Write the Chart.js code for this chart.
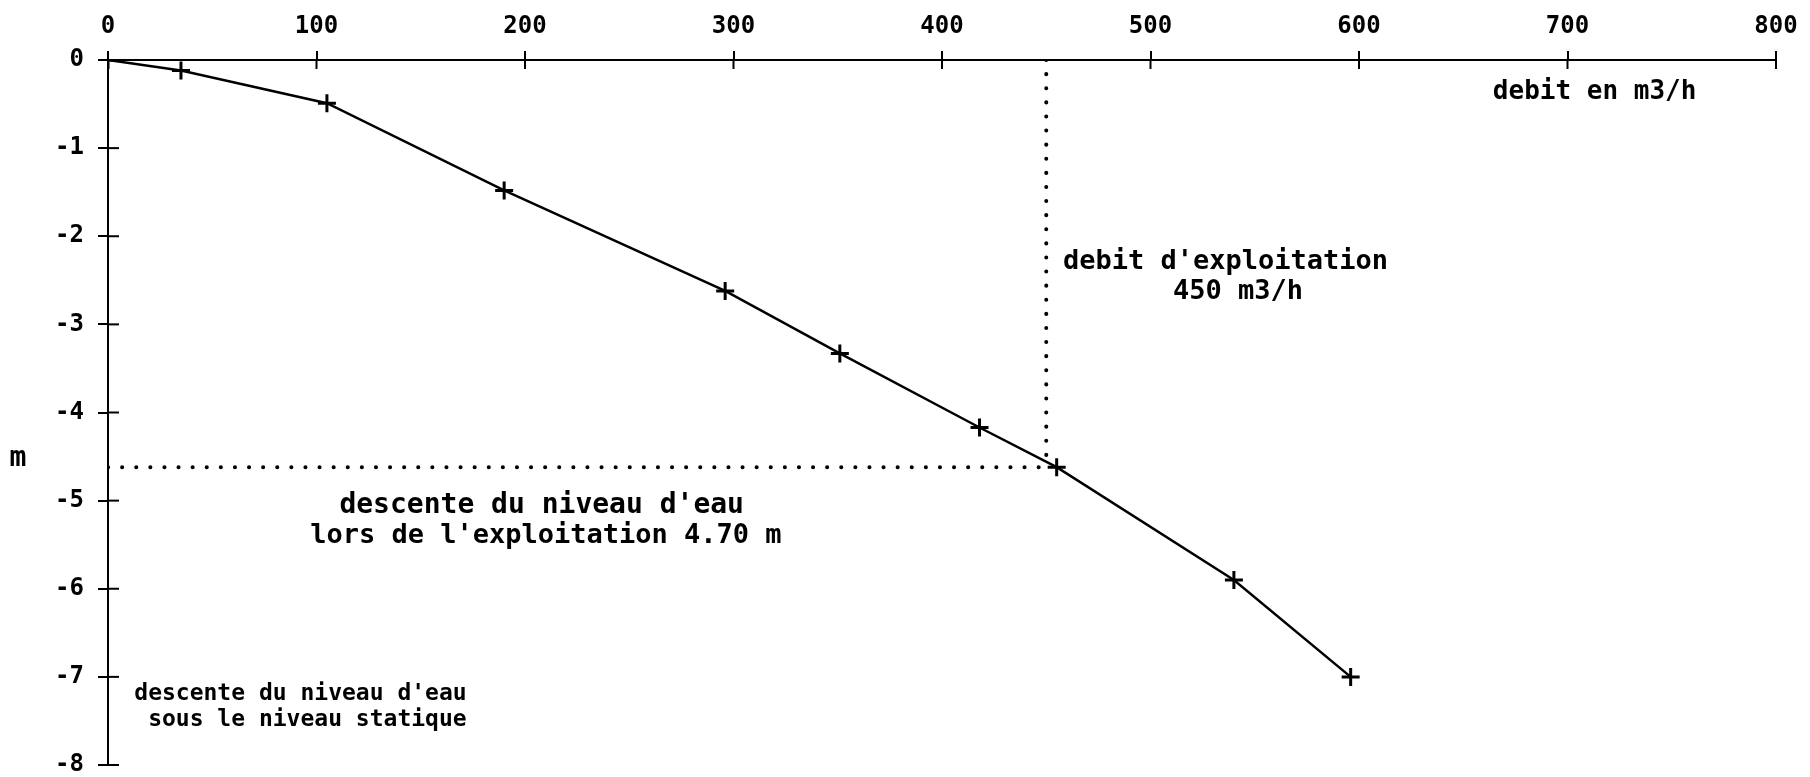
<!DOCTYPE html>
<html>
<head>
<meta charset="utf-8">
<script src="https://cdn.jsdelivr.net/npm/chart.js@4/dist/chart.umd.min.js"></script>
<style>
  html, body { margin: 0; padding: 0; background: #fff; }
  #wrap { width: 1810px; height: 777px; }
</style>
</head>
<body>
<div id="wrap"><canvas id="myChart"></canvas></div>
<script>
// pumping test: flow rate (m3/h) against drawdown (m)
const flowRates = [0, 35, 105, 190, 296, 351, 418, 455, 540, 596];
const drawdowns = [0, -0.12, -0.49, -1.48, -2.62, -3.33, -4.17, -4.62, -5.90, -7.0];

// operating point (dotted guides)
const operatingFlow = 450;
const operatingDrawdown = -4.62;

const xTicks = [0, 100, 200, 300, 400, 500, 600, 700, 800];
const yTicks = [0, -1, -2, -3, -4, -5, -6, -7, -8];

const FONT = '"DejaVu Sans Mono", "Liberation Mono", monospace';

// text placed on the plot, anchored in data units
const notes = [
  { text: 'debit en m3/h', x: 713, y: -0.37, size: 26 },
  { text: "debit d'exploitation", x: 536, y: -2.29, size: 27 },
  { text: '450 m3/h', x: 542, y: -2.63, size: 27 },
  { text: "descente du niveau d'eau", x: 208, y: -5.06, size: 28 },
  { text: "lors de l'exploitation 4.70 m", x: 210, y: -5.40, size: 27 },
  { text: "descente du niveau d'eau", x: 172, y: -7.19, size: 23, align: 'right' },
  { text: 'sous le niveau statique', x: 172, y: -7.49, size: 23, align: 'right' }
];

const curve = flowRates.map((q, i) => ({ x: q, y: drawdowns[i] }));

const decorations = {
  id: 'decorations',
  afterDraw(chart) {
    const { ctx, scales: { x, y } } = chart;
    ctx.save();
    ctx.strokeStyle = '#000';
    ctx.lineWidth = 2;
    // ticks cross the axes: draw the inner half
    xTicks.forEach(v => {
      const px = x.getPixelForValue(v);
      ctx.beginPath(); ctx.moveTo(px, y.top); ctx.lineTo(px, y.top + 9); ctx.stroke();
    });
    yTicks.forEach(v => {
      const py = y.getPixelForValue(v);
      ctx.beginPath(); ctx.moveTo(x.left, py); ctx.lineTo(x.left + 11, py); ctx.stroke();
    });

    ctx.fillStyle = '#000';
    ctx.textBaseline = 'middle';
    notes.forEach(n => {
      ctx.font = 'bold ' + n.size + 'px ' + FONT;
      ctx.textAlign = n.align || 'center';
      ctx.fillText(n.text, x.getPixelForValue(n.x), y.getPixelForValue(n.y));
    });

    // y axis unit
    ctx.font = 'bold 28px ' + FONT;
    ctx.textAlign = 'center';
    ctx.fillText('m', 18, y.getPixelForValue(-4.53));
    ctx.restore();
  }
};

const ctx = document.getElementById('myChart').getContext('2d');

new Chart(ctx, {
  type: 'scatter',
  data: {
    datasets: [
      {
        label: 'rabattement',
        data: curve,
        showLine: true,
        borderColor: '#000',
        borderWidth: 2.5,
        pointStyle: 'cross',
        pointRadius: 9,
        pointBorderWidth: 3,
        pointBorderColor: '#000',
        tension: 0
      },
      {
        label: 'debit exploitation',
        data: [{ x: operatingFlow, y: 0 }, { x: operatingFlow, y: operatingDrawdown }],
        showLine: true,
        borderColor: '#000',
        borderWidth: 4,
        borderDash: [0.1, 14],
        borderCapStyle: 'round',
        pointRadius: 0
      },
      {
        label: 'descente exploitation',
        data: [{ x: 0, y: operatingDrawdown }, { x: operatingFlow, y: operatingDrawdown }],
        showLine: true,
        borderColor: '#000',
        borderWidth: 4,
        borderDash: [0.1, 14],
        borderCapStyle: 'round',
        pointRadius: 0
      }
    ]
  },
  options: {
    responsive: true,
    maintainAspectRatio: false,
    animation: false,
    layout: { padding: { left: 0, right: 34, top: 0, bottom: 12 } },
    plugins: {
      legend: { display: false },
      tooltip: { enabled: false }
    },
    scales: {
      x: {
        type: 'linear',
        position: 'top',
        min: 0,
        max: 800,
        afterFit: s => { s.height = 60; },
        ticks: {
          stepSize: 100,
          color: '#000',
          padding: 10,
          font: { family: FONT, size: 24, weight: 'bold' }
        },
        grid: { drawOnChartArea: false, tickLength: 9, color: '#000', lineWidth: 2 },
        border: { color: '#000', width: 2 }
      },
      y: {
        type: 'linear',
        min: -8,
        max: 0,
        afterFit: s => { s.width = 108; s.paddingTop = 0; s.paddingBottom = 0; },
        ticks: {
          stepSize: 1,
          color: '#000',
          padding: 14,
          font: { family: FONT, size: 24, weight: 'bold' }
        },
        grid: { drawOnChartArea: false, tickLength: 10, color: '#000', lineWidth: 2 },
        border: { color: '#000', width: 2 }
      }
    }
  },
  plugins: [decorations]
});
</script>
</body>
</html>
